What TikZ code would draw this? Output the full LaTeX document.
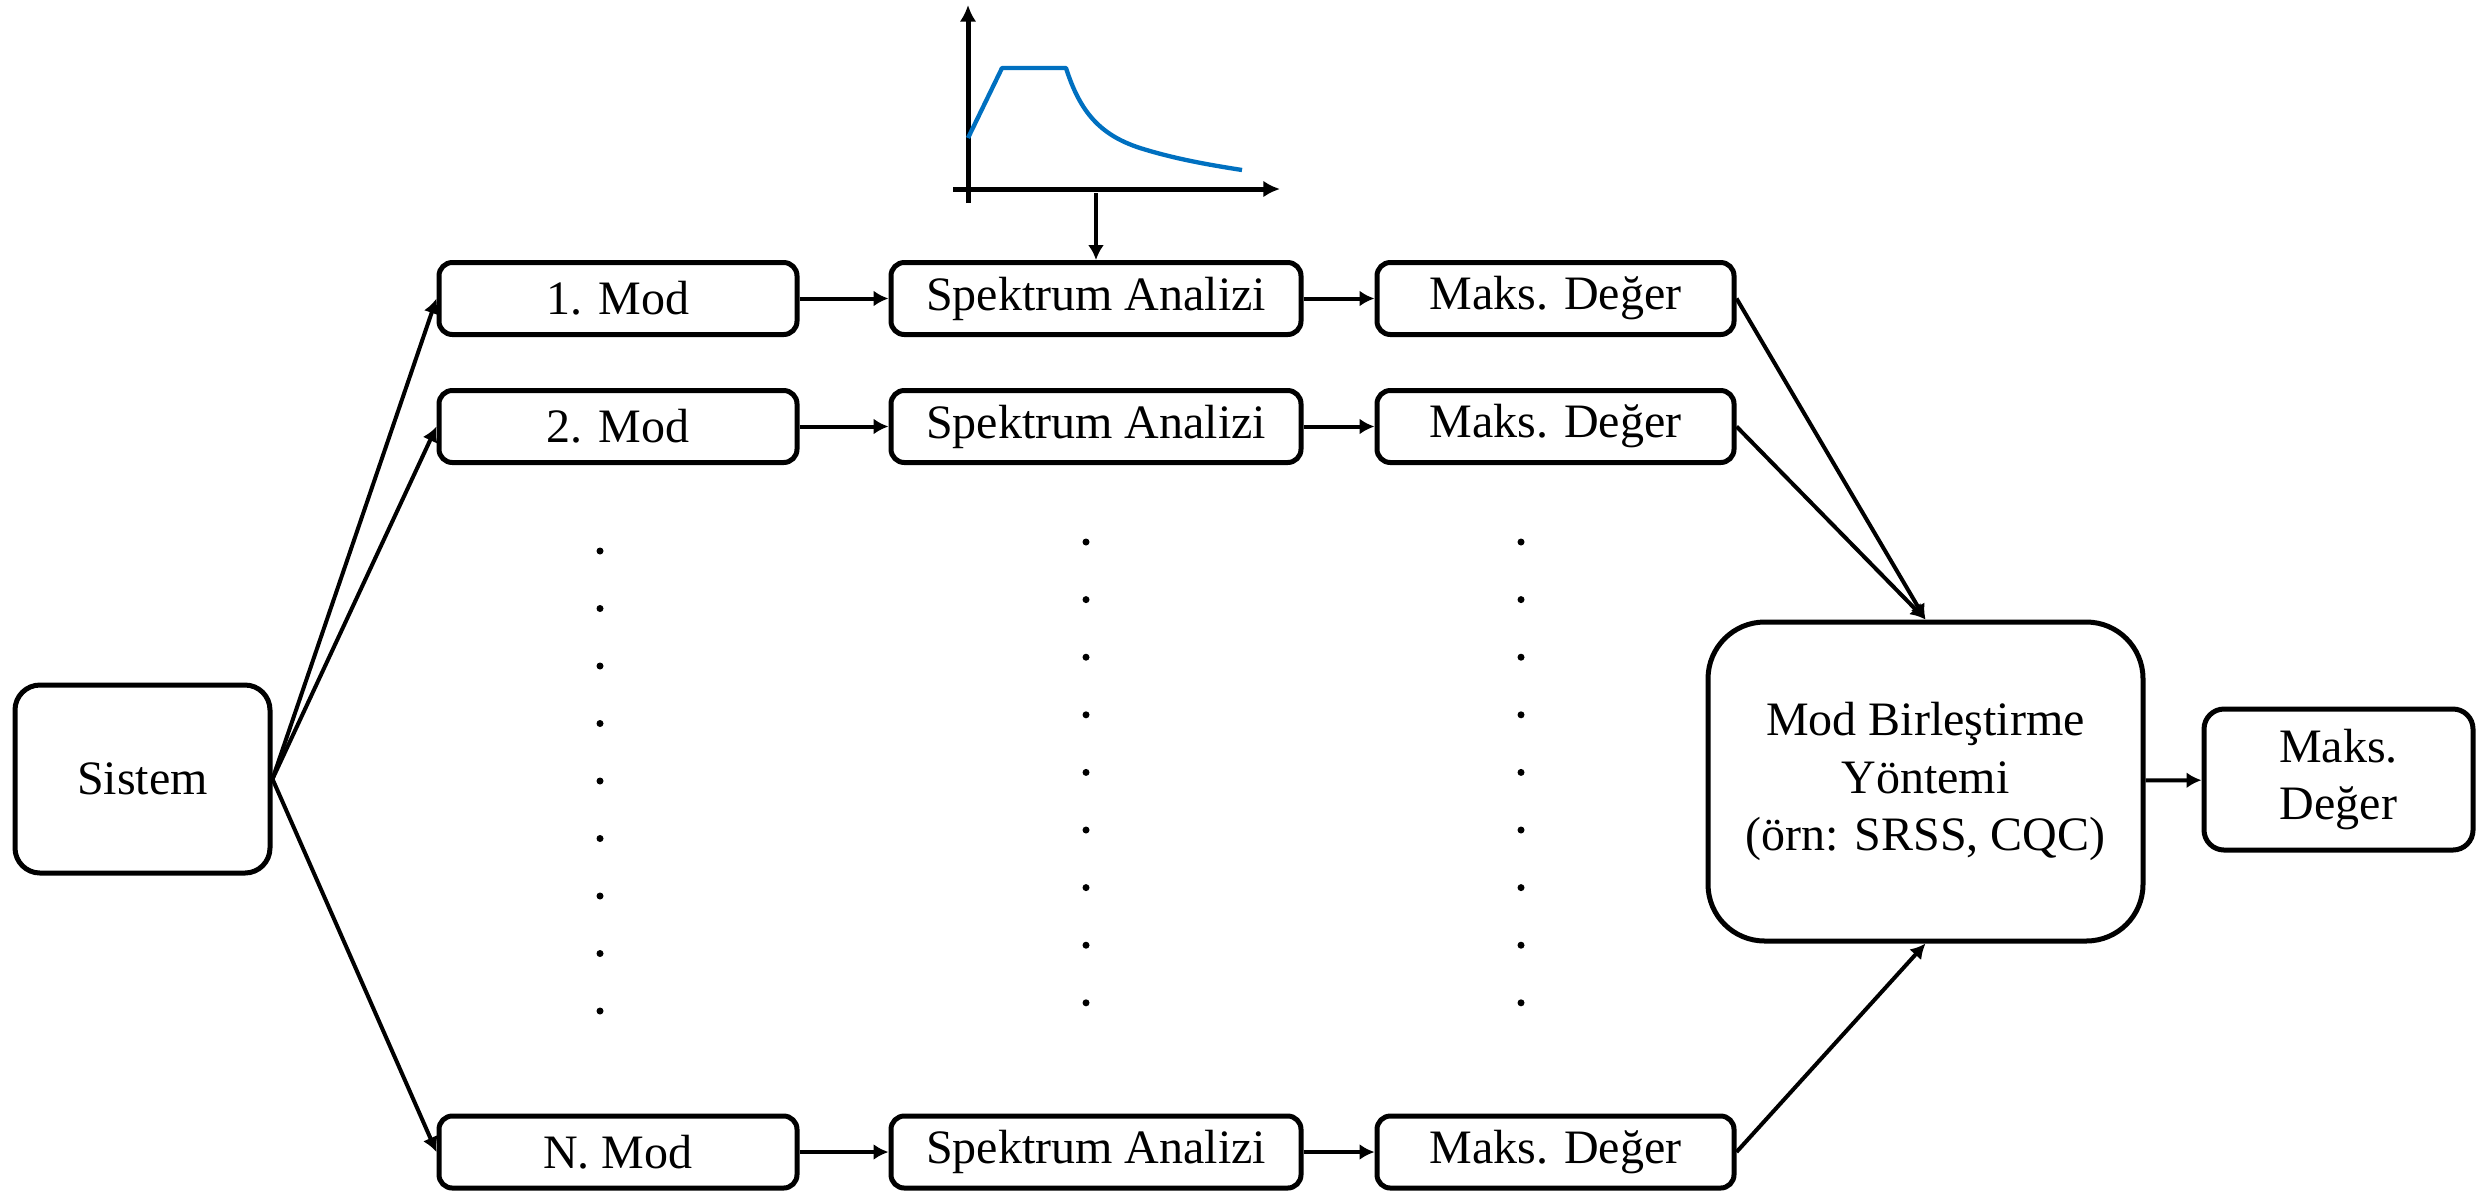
\documentclass[tikz,border=0pt]{standalone}
\usepackage{fontspec}
\setmainfont{Liberation Serif}
\usetikzlibrary{arrows.meta}
\definecolor{specblue}{RGB}{0,112,192}
\begin{document}
\begin{tikzpicture}[x=0.3pt,y=-0.3pt,
  font=\fontsize{14.4}{17.28}\selectfont,
  box/.style={draw,line width=1.5pt,rounded corners=4pt,inner sep=0pt,align=center},
  rowbox/.style={box,minimum height=21.6pt},
  flow/.style={line width=1.2pt,-{Latex[length=4.5pt,width=4.8pt]}},
  dot/.style={fill,circle,inner sep=0pt,minimum size=2.1pt}]
\useasboundingbox (0,0) rectangle (2476,1192);

% input system
\node[box,rounded corners=7.5pt,minimum width=76.5pt,minimum height=56.4pt] (sys) at (142.5,779) {Sistem};

% modal rows
\foreach \r/\y/\lab in {1/298.5/1. Mod, 2/426.5/2. Mod, n/1152/N. Mod}{
  \node[rowbox,minimum width=107.4pt] (mod\r) at (618,\y) {\lab};
  \node[rowbox,minimum width=123pt] (spec\r) at (1096,\y) {Spektrum Analizi};
  \node[rowbox,minimum width=107.1pt] (max\r) at (1555.5,\y) {Maks. Değer};
  \draw[flow] (sys.east) -- (mod\r.west);
  \draw[flow] (mod\r) -- (spec\r);
  \draw[flow] (spec\r) -- (max\r);
}

% combination and final result
\node[box,rounded corners=17pt,minimum width=130.5pt,minimum height=95.7pt] (comb) at (1925.5,781.5)
  {Mod Birleştirme\\Yöntemi\\(örn: SRSS, CQC)};
\node[box,rounded corners=6pt,minimum width=80.7pt,minimum height=42.3pt] (res) at (2338.5,779.5)
  {Maks.\\Değer};
\draw[flow] (max1.east) -- (comb.north);
\draw[flow] (max2.east) -- (comb.north);
\draw[flow] (maxn.east) -- (comb.south);
\draw[flow] (comb) -- (res);

% omitted modes
\foreach \i in {0,...,8}{
  \node[dot] (da\i) at (600,551+57.5*\i) {};
  \node[dot] (db\i) at (1086,542+57.6*\i) {};
  \node[dot] (dc\i) at (1521,542+57.6*\i) {};
}

% design spectrum sketch
\coordinate (yaxs) at (968,203);
\coordinate (yaxe) at (968,5);
\coordinate (xaxs) at (953,189);
\coordinate (xaxe) at (1280,189);
\draw[line width=1.5pt,-{Latex[length=5pt,width=5pt]}] (yaxs) -- (yaxe);
\draw[line width=1.5pt,-{Latex[length=5pt,width=5pt]}] (xaxs) -- (xaxe);
\draw[specblue,line width=1.3pt,line join=round]
  (968,138) -- (1002,68) -- (1066,68)
  .. controls (1080,112) and (1100,135) .. (1140,148)
  .. controls (1175,159) and (1210,165) .. (1242,170);
\coordinate (spin) at (1096,193);
\draw[flow] (spin) -- (spec1.north);
\end{tikzpicture}
\end{document}
